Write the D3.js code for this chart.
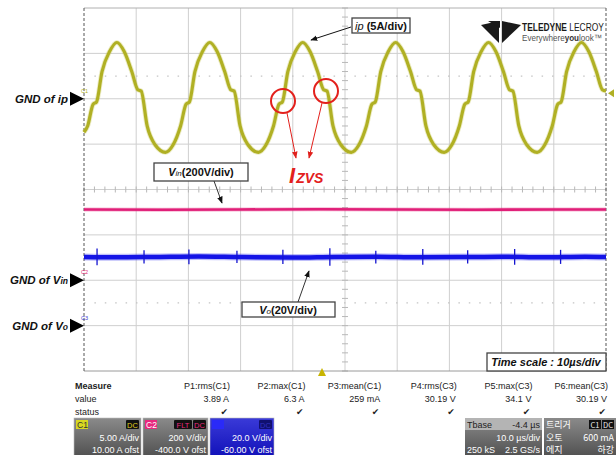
<!DOCTYPE html>
<html><head><meta charset="utf-8">
<script src="https://cdn.jsdelivr.net/npm/d3@7"></script>
<style>
body{margin:0;background:#fff;}
svg{display:block;font-family:"Liberation Sans",Arial,sans-serif;}
</style></head><body>
<svg id="chart" width="616" height="455"></svg>
<script>
// ip trace, key points (time in us, current in A)
const ipTime = [0, 0.7, 1.75, 2.4, 3.45, 4.9, 6.3, 7.7, 9.15, 10.3, 10.95, 12.1, 13.65, 15.6,
  17.05, 18.5, 19.55, 20.2, 21.25, 22.7, 24.1, 25.5, 26.95, 28.1, 28.75, 29.9, 31.45, 33.4,
  34.85, 36.3, 37.35, 38.0, 39.05, 40.5, 41.9, 43.3, 44.75, 45.9, 46.55, 47.7, 49.25, 51.2,
  52.65, 54.1, 55.15, 55.8, 56.85, 58.3, 59.7, 61.1, 62.55, 63.7, 64.35, 65.5, 67.05, 69.0,
  70.45, 71.9, 72.95, 73.6, 74.65, 76.1, 77.5, 78.9, 80.35, 81.5, 82.15, 83.3, 84.85, 86.8,
  88.25, 89.7, 90.75, 91.4, 92.45, 93.9, 95.3, 96.7, 98.15, 99.3, 100];
const ipAmp = [-3.7, -3.0, -0.6, -0.35, 3.0, 5.2, 6.2, 5.2, 3.0, 1.0, 0.85, -3.0, -5.1, -5.9,
  -5.1, -3.0, -0.6, -0.35, 3.0, 5.2, 6.2, 5.2, 3.0, 1.0, 0.85, -3.0, -5.1, -5.9,
  -5.1, -3.0, -0.6, -0.35, 3.0, 5.2, 6.2, 5.2, 3.0, 1.0, 0.85, -3.0, -5.1, -5.9,
  -5.1, -3.0, -0.6, -0.35, 3.0, 5.2, 6.2, 5.2, 3.0, 1.0, 0.85, -3.0, -5.1, -5.9,
  -5.1, -3.0, -0.6, -0.35, 3.0, 5.2, 6.2, 5.2, 3.0, 1.0, 0.85, -3.0, -5.1, -5.9,
  -5.1, -3.0, -0.6, -0.35, 3.0, 5.2, 6.2, 5.2, 3.0, 1.0, 0.85];

// Vin (V)
const vinTime = [0, 15, 30, 45, 60, 75, 90, 100];
const vinVolt = [312, 311, 312, 313, 312, 311, 312, 312];

// Vo (V) and its switching spikes
const voTime = [0, 6, 14, 22, 30, 40, 48, 56, 64, 72, 80, 88, 96, 100];
const voVolt = [30.3, 30.1, 30.3, 30.5, 30.2, 30.0, 30.3, 30.4, 30.1, 30.2, 30.4, 30.1, 30.4, 30.3];
const voSpikeTime = [2.5, 11.5, 20.1, 29.3, 38.1, 47.1, 55.9, 64.9, 73.5, 82.5, 91.3];
const voSpikeHigh = [34.0, 33.2, 33.6, 33.0, 33.4, 34.1, 33.0, 33.8, 33.2, 33.8, 33.4];
const voSpikeLow = [26.6, 27.4, 27.0, 27.6, 27.2, 26.4, 27.4, 26.8, 27.4, 26.8, 27.2];

// measurement table
const measureNames = ["P1:rms(C1)", "P2:max(C1)", "P3:mean(C1)", "P4:rms(C3)", "P5:max(C3)", "P6:mean(C3)"];
const measureValues = ["3.89 A", "6.3 A", "259 mA", "30.19 V", "34.1 V", "30.19 V"];

const svg = d3.select("#chart");
const L = 84, R = 606, T = 8, B = 371;

const x = d3.scaleLinear().domain([0, 100]).range([L, R]);
const xDiv = d3.scaleLinear().domain([0, 10]).range([L, R]);
const yDiv = d3.scaleLinear().domain([0, 8]).range([T, B]);
const yIp = d3.scaleLinear().domain([-30, 10]).range([B, T]);
const yVin = d3.scaleLinear().domain([-400, 1200]).range([B, T]);
const yVo = d3.scaleLinear().domain([-20, 140]).range([B, T]);

// grid
const grid = svg.append("g");
grid.selectAll(".gv").data(d3.range(1, 10)).enter().append("line")
  .attr("x1", d => xDiv(d)).attr("x2", d => xDiv(d)).attr("y1", T).attr("y2", B)
  .attr("stroke", "#cfcfcf").attr("stroke-width", 1);
grid.selectAll(".gh").data(d3.range(1, 8)).enter().append("line")
  .attr("x1", L).attr("x2", R).attr("y1", d => yDiv(d)).attr("y2", d => yDiv(d))
  .attr("stroke", "#cfcfcf").attr("stroke-width", 1);
grid.selectAll(".gd").data([1.5, 6.5]).enter().append("line")
  .attr("x1", L).attr("x2", R).attr("y1", d => yDiv(d)).attr("y2", d => yDiv(d))
  .attr("stroke", "#c4c4c4").attr("stroke-width", 1.2).attr("stroke-dasharray", "1.5,8.9");
// minor ticks on the centre lines
grid.selectAll(".tx").data(d3.range(0, 10.01, 0.2)).enter().append("line")
  .attr("x1", d => xDiv(d)).attr("x2", d => xDiv(d)).attr("y1", yDiv(4) - 3).attr("y2", yDiv(4) + 3)
  .attr("stroke", "#b8b8b8");
grid.selectAll(".ty").data(d3.range(0, 8.01, 0.2)).enter().append("line")
  .attr("y1", d => yDiv(d)).attr("y2", d => yDiv(d)).attr("x1", xDiv(5) - 3).attr("x2", xDiv(5) + 3)
  .attr("stroke", "#b8b8b8");
// frame
grid.append("line").attr("x1", L).attr("x2", R).attr("y1", T).attr("y2", T).attr("stroke", "#b0b0b0");
grid.append("line").attr("x1", L).attr("x2", R).attr("y1", B).attr("y2", B).attr("stroke", "#9a9a9a");
[L, R].forEach(px => grid.append("line").attr("x1", px).attr("x2", px).attr("y1", T).attr("y2", B)
  .attr("stroke", "#555").attr("stroke-dasharray", "3,2"));

// Teledyne LeCroy logo
const logo = svg.append("g");
logo.append("polygon").attr("points", "481,25 499,21 499,43").attr("fill", "#1a1a1a");
logo.append("polygon").attr("points", "502,21 521,25 502,43").attr("fill", "#1a1a1a");
logo.append("polygon").attr("points", "488,21 500,21 500,28").attr("fill", "#1a1a1a");
// words placed one after another, then squeezed to the logo width
function wordRow(y, words, size, width) {
  const g = logo.append("g");
  let cx = 0;
  words.forEach(w => {
    const t = g.append("text").attr("x", cx).attr("y", 0).attr("font-size", size)
      .attr("font-weight", w.bold ? "bold" : "normal").attr("fill", w.col).text(w.t);
    cx += t.node().getComputedTextLength();
  });
  g.attr("transform", `translate(522,${y}) scale(${width / cx},1)`);
}
wordRow(31, [{t: "TELEDYNE\u00a0", bold: true, col: "#1a1a1a"}, {t: "LECROY", col: "#1a1a1a"}], 10.5, 82);
wordRow(41, [{t: "Everywhere", col: "#555"}, {t: "you", bold: true, col: "#333"}, {t: "look\u2122", col: "#555"}], 9, 80);

// traces
const line = d3.line().x(d => x(d[0])).y(d => d[1]);
const vinPts = vinTime.map((t, i) => [t, yVin(vinVolt[i])]);
svg.append("path").attr("d", line(vinPts)).attr("fill", "none")
  .attr("stroke", "#e8287e").attr("stroke-width", 4).attr("opacity", 0.35);
svg.append("path").attr("d", line(vinPts)).attr("fill", "none")
  .attr("stroke", "#e01f78").attr("stroke-width", 2.6);

const voPts = voTime.map((t, i) => [t, yVo(voVolt[i])]);
const voLine = d3.line().x(d => x(d[0])).y(d => d[1]).curve(d3.curveMonotoneX);
svg.append("path").attr("d", voLine(voPts)).attr("fill", "none")
  .attr("stroke", "#2a2af0").attr("stroke-width", 7).attr("opacity", 0.3);
svg.append("path").attr("d", voLine(voPts)).attr("fill", "none")
  .attr("stroke", "#1414e6").attr("stroke-width", 4.5);
svg.selectAll(".spk").data(voSpikeTime).enter().append("line")
  .attr("x1", d => x(d)).attr("x2", d => x(d))
  .attr("y1", (d, i) => yVo(voSpikeHigh[i])).attr("y2", (d, i) => yVo(voSpikeLow[i]))
  .attr("stroke", "#1414d0").attr("stroke-width", 1.3);

const ipLine = d3.line().x(d => x(d[0])).y(d => yIp(d[1])).curve(d3.curveMonotoneX);
const ipPts = ipTime.map((t, i) => [t, ipAmp[i]]);
svg.append("path").attr("d", ipLine(ipPts)).attr("fill", "none")
  .attr("stroke", "#c0c040").attr("stroke-width", 5).attr("opacity", 0.3);
svg.append("path").attr("d", ipLine(ipPts)).attr("fill", "none")
  .attr("stroke", "#b0b024").attr("stroke-width", 3.2);

// ground markers
const gnd = [
  {name: "ip", sub: true, y: yIp(0), ch: "C1", col: "#b0b024"},
  {name: "V", sub: "in", y: yVin(0), ch: "C2", col: "#e01f78"},
  {name: "V", sub: "o", y: yVo(0), ch: "C3", col: "#3a3ad0"}
];
gnd.forEach(g => {
  svg.append("polygon").attr("points", `${L - 14},${g.y - 7} ${L - 14},${g.y + 7} ${L},${g.y}`).attr("fill", "#000");
  svg.append("text").attr("x", L - 3).attr("y", g.y - 6).attr("font-size", 5.5).attr("fill", g.col).text(g.ch);
  const t = svg.append("text").attr("x", L - 16).attr("y", g.y + 4).attr("text-anchor", "end")
    .attr("font-size", 11.5).attr("font-weight", "bold").attr("font-style", "italic").attr("fill", "#111");
  t.append("tspan").text("GND of ");
  if (g.sub === true) t.append("tspan").text(g.name);
  else { t.append("tspan").text(g.name); t.append("tspan").attr("font-size", 8.5).text(g.sub); }
});
// right-side level marker and trigger position marker
svg.append("polygon").attr("points", `${R + 2},${yIp(0.6)} ${R + 8},${yIp(0.6) - 4} ${R + 8},${yIp(0.6) + 4}`).attr("fill", "#b0b024");
svg.append("polygon").attr("points", "322,368 318,376 326,376").attr("fill", "#c8b400");

// annotations
const defs = svg.append("defs");
[["ah", "#111"], ["ahr", "#e0201c"]].forEach(([id, c]) => {
  defs.append("marker").attr("id", id).attr("viewBox", "0 0 10 10").attr("refX", 9).attr("refY", 5)
    .attr("markerWidth", 7).attr("markerHeight", 7).attr("orient", "auto")
    .append("path").attr("d", "M0,1 L10,5 L0,9 Z").attr("fill", c);
});
function box(x0, y0, w, h) {
  svg.append("rect").attr("x", x0).attr("y", y0).attr("width", w).attr("height", h)
    .attr("fill", "#fff").attr("stroke", "#444").attr("stroke-width", 1.3);
}
function arrow(x1, y1, x2, y2, id, col, w) {
  svg.append("line").attr("x1", x1).attr("y1", y1).attr("x2", x2).attr("y2", y2)
    .attr("stroke", col).attr("stroke-width", w).attr("marker-end", `url(#${id})`);
}
box(352, 18, 58, 15);
let a = svg.append("text").attr("x", 381).attr("y", 30).attr("text-anchor", "middle").attr("font-size", 11).attr("fill", "#111");
a.append("tspan").attr("font-style", "italic").text("ip");
a.append("tspan").attr("font-weight", "bold").text(" (5A/div)");
arrow(351, 27, 311, 40, "ah", "#111", 1);

box(154, 163, 94, 18);
a = svg.append("text").attr("x", 201).attr("y", 176).attr("text-anchor", "middle").attr("font-size", 11).attr("font-weight", "bold").attr("fill", "#111");
a.append("tspan").attr("font-style", "italic").text("V");
a.append("tspan").attr("font-style", "italic").attr("font-size", 8).attr("font-weight", "normal").text("in");
a.append("tspan").text("(200V/div)");
arrow(214, 181, 222, 203, "ah", "#333", 1);

box(242, 302, 93, 15);
a = svg.append("text").attr("x", 288).attr("y", 314).attr("text-anchor", "middle").attr("font-size", 11).attr("font-weight", "bold").attr("fill", "#111");
a.append("tspan").attr("font-style", "italic").text("V");
a.append("tspan").attr("font-style", "italic").attr("font-size", 8).attr("font-weight", "normal").text("o");
a.append("tspan").text("(20V/div)");
arrow(298, 302, 309, 271, "ah", "#333", 1);

box(487, 353, 119, 18);
svg.append("text").attr("x", 546).attr("y", 366).attr("text-anchor", "middle").attr("font-size", 11)
  .attr("font-weight", "bold").attr("font-style", "italic").attr("fill", "#111").text("Time scale : 10\u00b5s/div");

// ZVS circles
[[283, 101], [326, 91]].forEach(([cx, cy]) => svg.append("circle").attr("cx", cx).attr("cy", cy).attr("r", 12)
  .attr("fill", "none").attr("stroke", "#e3201c").attr("stroke-width", 2));
arrow(287, 113, 296, 158, "ahr", "#e3201c", 1);
arrow(322, 103, 309, 158, "ahr", "#e3201c", 1);
a = svg.append("text").attr("x", 289).attr("y", 183).attr("font-weight", "bold").attr("font-style", "italic").attr("fill", "#e3201c");
a.append("tspan").attr("font-size", 22).text("I");
a.append("tspan").attr("font-size", 14).attr("dx", 1).text("ZVS");

// measurement table
const mx = d3.scalePoint().domain(measureNames).range([230, 608]);
const fs = 9;
svg.append("text").attr("x", 75).attr("y", 389).attr("font-size", fs).attr("font-weight", "bold").attr("fill", "#222").text("Measure");
svg.append("text").attr("x", 75).attr("y", 402).attr("font-size", fs).attr("fill", "#222").text("value");
svg.append("text").attr("x", 75).attr("y", 415).attr("font-size", fs).attr("fill", "#222").text("status");
svg.selectAll(".mh").data(measureNames).enter().append("text")
  .attr("x", d => mx(d)).attr("y", 389).attr("text-anchor", "end").attr("font-size", fs).attr("fill", "#222").text(d => d);
svg.selectAll(".mv").data(measureValues).enter().append("text")
  .attr("x", (d, i) => mx(measureNames[i]) - 1).attr("y", 402).attr("text-anchor", "end").attr("font-size", fs).attr("fill", "#222").text(d => d);
svg.selectAll(".ms").data(measureNames).enter().append("text")
  .attr("x", d => mx(d) - 2).attr("y", 415).attr("text-anchor", "end").attr("font-size", 9)
  .attr("font-family", "DejaVu Sans").attr("fill", "#222").text("\u2714");

// channel / timebase panels
const grad = defs.append("linearGradient").attr("id", "pg").attr("x1", 0).attr("y1", 0).attr("x2", 0).attr("y2", 1);
grad.append("stop").attr("offset", 0).attr("stop-color", "#8a8a8a");
grad.append("stop").attr("offset", 1).attr("stop-color", "#4e4e4e");
const bgrad = defs.append("linearGradient").attr("id", "bg").attr("x1", 0).attr("y1", 0).attr("x2", 0).attr("y2", 1);
bgrad.append("stop").attr("offset", 0).attr("stop-color", "#3a3ad8");
bgrad.append("stop").attr("offset", 1).attr("stop-color", "#1010b8");

const panels = [
  {x: 74, w: 67, fill: "url(#pg)", lab: "C1", labFill: "#d8d820", labCol: "#333", tags: ["DC"], tagCol: "#e0d020", l1: "5.00 A/div", l2: "10.00 A ofst"},
  {x: 143, w: 65, fill: "url(#pg)", lab: "C2", labFill: "#e8287e", labCol: "#fff", tags: ["FLT", "DC"], tagCol: "#e8287e", l1: "200 V/div", l2: "-400.0 V ofst"},
  {x: 210, w: 64, fill: "url(#bg)", lab: "", labFill: "#2a2af8", labCol: "#fff", tags: ["DC"], tagCol: "#3030c0", l1: "20.0 V/div", l2: "-60.00 V ofst"}
];
panels.forEach(p => {
  const g = svg.append("g");
  g.append("rect").attr("x", p.x).attr("y", 418).attr("width", p.w).attr("height", 40).attr("fill", p.fill).attr("stroke", "#bbb").attr("stroke-width", 0.6);
  g.append("rect").attr("x", p.x + 2).attr("y", 420).attr("width", 12).attr("height", 9).attr("fill", p.labFill);
  g.append("text").attr("x", p.x + 3).attr("y", 428).attr("font-size", 8.5).attr("fill", p.labCol).text(p.lab);
  let tx = p.x + p.w - 2;
  p.tags.slice().reverse().forEach(tg => {
    const w = tg.length * 5 + 3;
    tx -= w;
    g.append("rect").attr("x", tx).attr("y", 420).attr("width", w).attr("height", 9).attr("fill", p.lab === "" ? "#101070" : "#111").attr("rx", 1);
    g.append("text").attr("x", tx + w / 2).attr("y", 428).attr("text-anchor", "middle").attr("font-size", 7.5).attr("fill", p.tagCol).text(tg);
    tx -= 1;
  });
  g.append("text").attr("x", p.x + p.w - 2).attr("y", 441).attr("text-anchor", "end").attr("font-size", 9).attr("fill", "#fff").text(p.l1);
  g.append("text").attr("x", p.x + p.w - 2).attr("y", 453).attr("text-anchor", "end").attr("font-size", 9).attr("fill", "#fff").text(p.l2);
});

// timebase panel
const tb = svg.append("g");
tb.append("rect").attr("x", 465).attr("y", 418).attr("width", 77).attr("height", 40).attr("fill", "url(#pg)");
tb.append("rect").attr("x", 465).attr("y", 418).attr("width", 77).attr("height", 12).attr("fill", "#b4b4b4");
tb.append("text").attr("x", 467).attr("y", 428).attr("font-size", 9).attr("fill", "#222").text("Tbase");
tb.append("text").attr("x", 540).attr("y", 428).attr("text-anchor", "end").attr("font-size", 9).attr("fill", "#222").text("-4.4 \u00b5s");
tb.append("text").attr("x", 540).attr("y", 441).attr("text-anchor", "end").attr("font-size", 9).attr("fill", "#fff").text("10.0 \u00b5s/div");
tb.append("text").attr("x", 467).attr("y", 453).attr("font-size", 9).attr("fill", "#fff").text("250 kS");
tb.append("text").attr("x", 540).attr("y", 453).attr("text-anchor", "end").attr("font-size", 9).attr("fill", "#fff").text("2.5 GS/s");

// trigger panel (Korean UI)
const tr = svg.append("g").attr("font-family", "'Noto Sans CJK KR','Liberation Sans',sans-serif");
tr.append("rect").attr("x", 544).attr("y", 418).attr("width", 72).attr("height", 40).attr("fill", "url(#pg)");
tr.append("text").attr("x", 546).attr("y", 428).attr("font-size", 9).attr("fill", "#fff").text("\ud2b8\ub9ac\uac70");
tr.append("rect").attr("x", 589).attr("y", 420).attr("width", 12).attr("height", 9).attr("fill", "#111");
tr.append("text").attr("x", 595).attr("y", 428).attr("text-anchor", "middle").attr("font-size", 7.5).attr("fill", "#eee").text("C1");
tr.append("rect").attr("x", 602).attr("y", 420).attr("width", 12).attr("height", 9).attr("fill", "#111");
tr.append("text").attr("x", 608).attr("y", 428).attr("text-anchor", "middle").attr("font-size", 7.5).attr("fill", "#eee").text("DC");
tr.append("text").attr("x", 546).attr("y", 441).attr("font-size", 9).attr("fill", "#fff").text("\uc624\ud1a0");
tr.append("text").attr("x", 614).attr("y", 441).attr("text-anchor", "end").attr("font-size", 9).attr("fill", "#fff").text("600 mA");
tr.append("text").attr("x", 546).attr("y", 453).attr("font-size", 9).attr("fill", "#fff").text("\uc5d0\uc9c0");
tr.append("text").attr("x", 614).attr("y", 453).attr("text-anchor", "end").attr("font-size", 9).attr("fill", "#fff").text("\ud558\uac15");
</script>
</body></html>
